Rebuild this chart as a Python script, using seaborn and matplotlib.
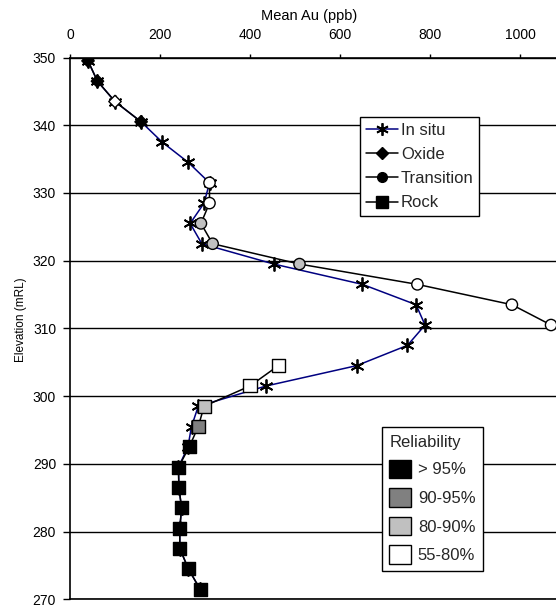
import matplotlib
matplotlib.use("Agg")
import matplotlib.pyplot as plt
import seaborn as sns
from matplotlib.lines import Line2D
from matplotlib.patches import Patch

# ---------------- data ----------------
insitu_elev = [349.5, 346.5, 343.5, 340.5, 337.5, 334.5, 331.5, 328.5, 325.5, 322.5,
               319.5, 316.5, 313.5, 310.5, 307.5, 304.5, 301.5, 298.5, 295.5, 292.5,
               289.5, 286.5, 283.5, 280.5, 277.5, 274.5, 271.5]
insitu_au = [40, 61, 100, 158, 205, 263, 310, 298, 267, 293,
             453, 650, 769, 789, 750, 637, 436, 285, 270, 262,
             241, 242, 248, 244, 244, 263, 289]

oxide_elev = [349.5, 346.5, 343.5, 340.5]
oxide_au = [40, 61, 100, 158]
oxide_rel = [">95", ">95", "55-80", ">95"]

trans_elev = [331.5, 328.5, 325.5, 322.5, 319.5, 316.5, 313.5, 310.5]
trans_au = [310, 310, 291, 317, 510, 772, 982, 1069]
trans_rel = ["55-80", "55-80", "80-90", "80-90", "80-90", "55-80", "55-80", "55-80"]

rock_elev = [304.5, 301.5, 298.5, 295.5, 292.5, 289.5, 286.5, 283.5, 280.5, 277.5, 274.5, 271.5]
rock_au = [463, 400, 298, 285, 265, 241, 242, 248, 244, 244, 263, 289]
rock_rel = ["55-80", "55-80", "80-90", "90-95", ">95", ">95", ">95", ">95", ">95", ">95", ">95", ">95"]

series_labels = ["In situ", "Oxide", "Transition", "Rock"]
rel_levels = [">95", "90-95", "80-90", "55-80"]
rel_labels = ["> 95%", "90-95%", "80-90%", "55-80%"]
x_ticks = [0, 200, 400, 600, 800, 1000]
y_ticks = [270, 280, 290, 300, 310, 320, 330, 340, 350]

# ---------------- style ----------------
sns.set_theme(style="white")
plt.rcParams['font.family'] = ['Liberation Sans', 'DejaVu Sans']

rel_pal = {">95": "#000000", "90-95": "#808080", "80-90": "#c0c0c0", "55-80": "#ffffff"}
navy = "#000080"
star = (6, 2, 0)

fig = plt.figure(figsize=(5.56, 6.10), dpi=100)
ax = fig.add_axes([70 / 556, 1 - 599.3 / 610, 540 / 556, 541.8 / 610])

# in situ line with asterisk markers
sns.lineplot(x=insitu_au, y=insitu_elev, sort=False, estimator=None, ax=ax,
             color=navy, lw=1.1, marker=star, markersize=10, mec="black", mew=1.3,
             zorder=3)

# regolith series: black line + reliability-coloured markers
for au, el, rel, mk, s, z in [(oxide_au, oxide_elev, oxide_rel, "D", 40, 4),
                              (trans_au, trans_elev, trans_rel, "o", 66, 6),
                              (rock_au, rock_elev, rock_rel, "s", 88, 8)]:
    sns.lineplot(x=au, y=el, sort=False, estimator=None, ax=ax,
                 color="black", lw=1.1, zorder=z)
    sns.scatterplot(x=au, y=el, hue=rel, palette=rel_pal, marker=mk, s=s,
                    edgecolor="black", linewidth=1.0, legend=False, ax=ax,
                    zorder=z + 0.5)

ax.set_xlim(0, 1200)
ax.set_ylim(270, 350)
ax.set_xticks(x_ticks)
ax.set_yticks(y_ticks)

ax.xaxis.tick_top()
ax.xaxis.set_label_position("top")
ax.tick_params(axis="x", top=True, bottom=False, direction="out", length=3,
               width=1, color="black", labelsize=10, pad=8, labelcolor="black")
ax.tick_params(axis="y", left=True, direction="out", length=5, width=1,
               color="black", labelsize=10, pad=5, labelcolor="black")

ax.yaxis.grid(True, color="black", lw=1.0)
ax.xaxis.grid(False)
for side in ["left", "top", "bottom"]:
    ax.spines[side].set_color("black")
    ax.spines[side].set_linewidth(1.2)
ax.spines["right"].set_visible(False)

ax.set_xlabel("Mean Au (ppb)", fontsize=10.5, color="black")
ax.xaxis.set_label_coords((309 - 70) / 540, (599.3 - 16) / 541.8)
ax.xaxis.label.set_va("center")
ax.set_ylabel("Elevation (mRL)", fontsize=8.5, color="black")
ax.yaxis.set_label_coords((27 - 70) / 540, (599.3 - 320) / 541.8)

# legend 1: series
h1 = [Line2D([], [], color=navy, lw=1.1, marker=star, ms=9, mec="black", mew=1.3),
      Line2D([], [], color="black", lw=1.1, marker="D", ms=6, mfc="black", mec="black"),
      Line2D([], [], color="black", lw=1.1, marker="o", ms=7, mfc="black", mec="black"),
      Line2D([], [], color="black", lw=1.1, marker="s", ms=8, mfc="black", mec="black")]
leg1 = ax.legend(h1, series_labels, loc="upper left",
                 bbox_to_anchor=(360 / 556, 1 - 117 / 610), bbox_transform=fig.transFigure,
                 fontsize=12, frameon=True, fancybox=False, edgecolor="black",
                 framealpha=1, borderpad=0.35, labelspacing=0.55, handlelength=1.9,
                 handletextpad=0.2, borderaxespad=0)
leg1.get_frame().set_linewidth(1.0)
leg1.set_zorder(20)
ax.add_artist(leg1)

# legend 2: reliability
h2 = [Patch(facecolor=rel_pal[r], edgecolor="black", lw=1.0) for r in rel_levels]
leg2 = ax.legend(h2, rel_labels, loc="upper left", title="Reliability",
                 bbox_to_anchor=(382 / 556, 1 - 427 / 610), bbox_transform=fig.transFigure,
                 fontsize=12, title_fontsize=12, frameon=True, fancybox=False,
                 edgecolor="black", framealpha=1, borderpad=0.45, labelspacing=0.62,
                 handlelength=1.3, handleheight=1.3, handletextpad=0.4,
                 borderaxespad=0, alignment="left")
leg2.get_frame().set_linewidth(1.0)
leg2.set_zorder(20)

fig.savefig("out.png", dpi=100)
